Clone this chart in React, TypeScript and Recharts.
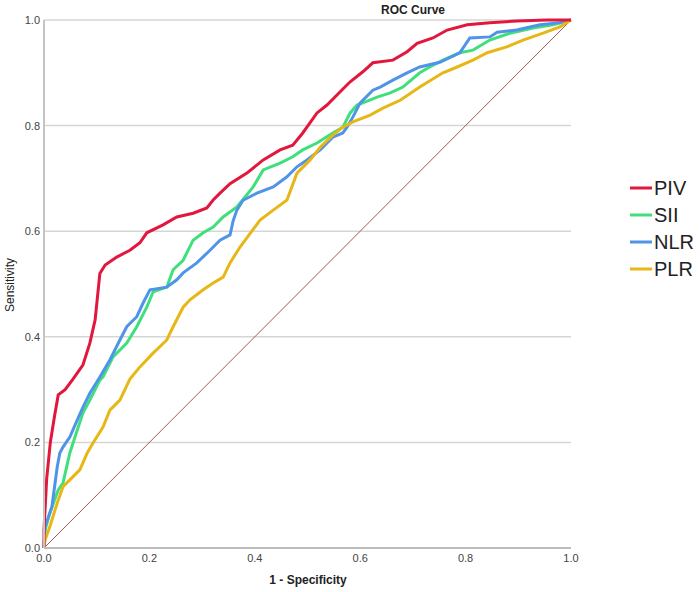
import React from 'react';
import { LineChart, Line, XAxis, YAxis, CartesianGrid } from 'recharts';

const xTicks = [0, 0.2, 0.4, 0.6, 0.8, 1.0];
const yTicks = [0, 0.2, 0.4, 0.6, 0.8, 1.0];

const seriesNames = ['PIV', 'SII', 'NLR', 'PLR'];
const seriesColors = ['#E2173D', '#3FE07C', '#4F94E8', '#E6B716'];
const refColor = '#9E5A55';

const refFpr = [0, 1];
const refTpr = [0, 1];

const pivFpr = [0, 0, 0.005, 0.012, 0.02, 0.027, 0.04, 0.055, 0.074, 0.087, 0.097, 0.106, 0.116, 0.138, 0.163, 0.182, 0.195, 0.226, 0.252, 0.283, 0.309, 0.321, 0.334, 0.353, 0.385, 0.416, 0.448, 0.472, 0.491, 0.518, 0.537, 0.562, 0.581, 0.605, 0.624, 0.662, 0.689, 0.708, 0.738, 0.765, 0.803, 0.846, 0.897, 0.954, 1];
const pivTpr = [0, 0.035, 0.13, 0.2, 0.25, 0.29, 0.3, 0.32, 0.347, 0.388, 0.432, 0.52, 0.536, 0.551, 0.564, 0.578, 0.597, 0.612, 0.627, 0.634, 0.644, 0.659, 0.672, 0.69, 0.71, 0.735, 0.754, 0.763, 0.786, 0.824, 0.839, 0.864, 0.883, 0.902, 0.919, 0.924, 0.94, 0.956, 0.966, 0.981, 0.991, 0.995, 0.998, 1.0, 1.0];

const siiFpr = [0, 0.002, 0.011, 0.027, 0.036, 0.049, 0.063, 0.074, 0.087, 0.106, 0.112, 0.131, 0.157, 0.176, 0.195, 0.207, 0.233, 0.245, 0.264, 0.283, 0.302, 0.321, 0.34, 0.366, 0.397, 0.416, 0.448, 0.472, 0.491, 0.518, 0.548, 0.567, 0.581, 0.594, 0.605, 0.632, 0.657, 0.681, 0.713, 0.732, 0.757, 0.789, 0.814, 0.846, 0.884, 0.928, 0.966, 1];
const siiTpr = [0, 0.034, 0.066, 0.11, 0.123, 0.18, 0.223, 0.256, 0.28, 0.318, 0.324, 0.362, 0.388, 0.419, 0.456, 0.485, 0.494, 0.527, 0.545, 0.583, 0.597, 0.608, 0.627, 0.646, 0.684, 0.716, 0.729, 0.741, 0.754, 0.767, 0.786, 0.797, 0.824, 0.839, 0.843, 0.854, 0.862, 0.873, 0.9, 0.911, 0.924, 0.938, 0.943, 0.962, 0.975, 0.985, 0.991, 1];

const nlrFpr = [0, 0.002, 0.015, 0.025, 0.03, 0.036, 0.049, 0.063, 0.074, 0.087, 0.106, 0.125, 0.144, 0.157, 0.176, 0.188, 0.201, 0.233, 0.252, 0.264, 0.29, 0.315, 0.334, 0.353, 0.359, 0.366, 0.378, 0.404, 0.435, 0.461, 0.48, 0.499, 0.524, 0.548, 0.567, 0.575, 0.586, 0.6, 0.624, 0.638, 0.662, 0.689, 0.713, 0.751, 0.789, 0.808, 0.846, 0.86, 0.897, 0.941, 0.979, 1];
const nlrTpr = [0, 0.04, 0.078, 0.153, 0.18, 0.191, 0.21, 0.242, 0.267, 0.293, 0.324, 0.356, 0.394, 0.419, 0.438, 0.464, 0.489, 0.494, 0.508, 0.521, 0.54, 0.564, 0.583, 0.593, 0.62, 0.64, 0.659, 0.672, 0.684, 0.703, 0.722, 0.735, 0.754, 0.778, 0.786, 0.797, 0.816, 0.843, 0.867, 0.873, 0.886, 0.9, 0.911, 0.92, 0.938, 0.966, 0.968, 0.977, 0.981, 0.991, 0.995, 1];

const plrFpr = [0, 0.002, 0.011, 0.025, 0.036, 0.049, 0.068, 0.082, 0.093, 0.112, 0.125, 0.144, 0.163, 0.182, 0.207, 0.233, 0.245, 0.264, 0.277, 0.302, 0.321, 0.34, 0.353, 0.372, 0.41, 0.435, 0.461, 0.48, 0.505, 0.524, 0.548, 0.567, 0.586, 0.619, 0.643, 0.676, 0.713, 0.757, 0.784, 0.814, 0.841, 0.878, 0.909, 0.947, 0.979, 1];
const plrTpr = [0, 0.015, 0.04, 0.085, 0.116, 0.129, 0.148, 0.18, 0.199, 0.229, 0.261, 0.28, 0.32, 0.343, 0.369, 0.394, 0.419, 0.456, 0.47, 0.489, 0.502, 0.513, 0.54, 0.57, 0.621, 0.64, 0.659, 0.71, 0.735, 0.759, 0.782, 0.797, 0.807, 0.82, 0.833, 0.848, 0.873, 0.9, 0.911, 0.924, 0.938, 0.949, 0.962, 0.975, 0.987, 1];

const toPoints = (fpr: number[], tpr: number[]) => fpr.map((x, i) => ({ x, y: tpr[i] }));

const refData = toPoints(refFpr, refTpr);
const pivData = toPoints(pivFpr, pivTpr);
const siiData = toPoints(siiFpr, siiTpr);
const nlrData = toPoints(nlrFpr, nlrTpr);
const plrData = toPoints(plrFpr, plrTpr);

const FONT = '"Liberation Sans", Arial, sans-serif';

export default function App() {
  const tickStyle = { fontSize: 11, fill: '#444', fontFamily: FONT };
  return (
    <div style={{ position: 'absolute', left: 0, top: 0, width: 700, height: 592, background: '#fff' }}>
      <LineChart width={700} height={592} margin={{ top: 20, right: 129, bottom: 0, left: 0 }}>
        <CartesianGrid horizontal={true} vertical={false} stroke="#d6d6d6" strokeWidth={1.5} />
        <XAxis
          type="number"
          dataKey="x"
          domain={[0, 1]}
          ticks={xTicks}
          tickFormatter={(v: number) => v.toFixed(1)}
          height={44}
          tickSize={0}
          tickMargin={6}
          axisLine={{ stroke: '#bcbcbc', strokeWidth: 2 }}
          tick={tickStyle}
          allowDuplicatedCategory={false}
        />
        <YAxis
          type="number"
          dataKey="y"
          domain={[0, 1]}
          ticks={yTicks}
          tickFormatter={(v: number) => v.toFixed(1)}
          width={44}
          tickSize={0}
          tickMargin={4}
          axisLine={{ stroke: '#c4c4c4', strokeWidth: 2 }}
          tick={tickStyle}
        />
        <Line data={refData} dataKey="y" type="linear" stroke={refColor} strokeWidth={1} dot={false} isAnimationActive={false} />
        <Line data={siiData} dataKey="y" type="linear" stroke={seriesColors[1]} strokeWidth={3} dot={false} isAnimationActive={false} />
        <Line data={nlrData} dataKey="y" type="linear" stroke={seriesColors[2]} strokeWidth={3} dot={false} isAnimationActive={false} />
        <Line data={plrData} dataKey="y" type="linear" stroke={seriesColors[3]} strokeWidth={3} dot={false} isAnimationActive={false} />
        <Line data={pivData} dataKey="y" type="linear" stroke={seriesColors[0]} strokeWidth={3} dot={false} isAnimationActive={false} />
        <text x={413} y={14} textAnchor="middle" fontFamily={FONT} fontSize={12} fontWeight="bold" fill="#222">ROC Curve</text>
        <text x={308} y={584} textAnchor="middle" fontFamily={FONT} fontSize={12} fontWeight="bold" fill="#222">1 - Specificity</text>
        <text x={14} y={285} textAnchor="middle" fontFamily={FONT} fontSize={12} fill="#222" transform="rotate(-90 14 285)">Sensitivity</text>
        {seriesNames.map((name, i) => (
          <g key={name}>
            <line x1={630} x2={652} y1={188 + i * 27} y2={188 + i * 27} stroke={seriesColors[i]} strokeWidth={3} />
            <text x={654} y={188 + i * 27 + 7} fontFamily={FONT} fontSize={20} fill="#222">{name}</text>
          </g>
        ))}
      </LineChart>
    </div>
  );
}
